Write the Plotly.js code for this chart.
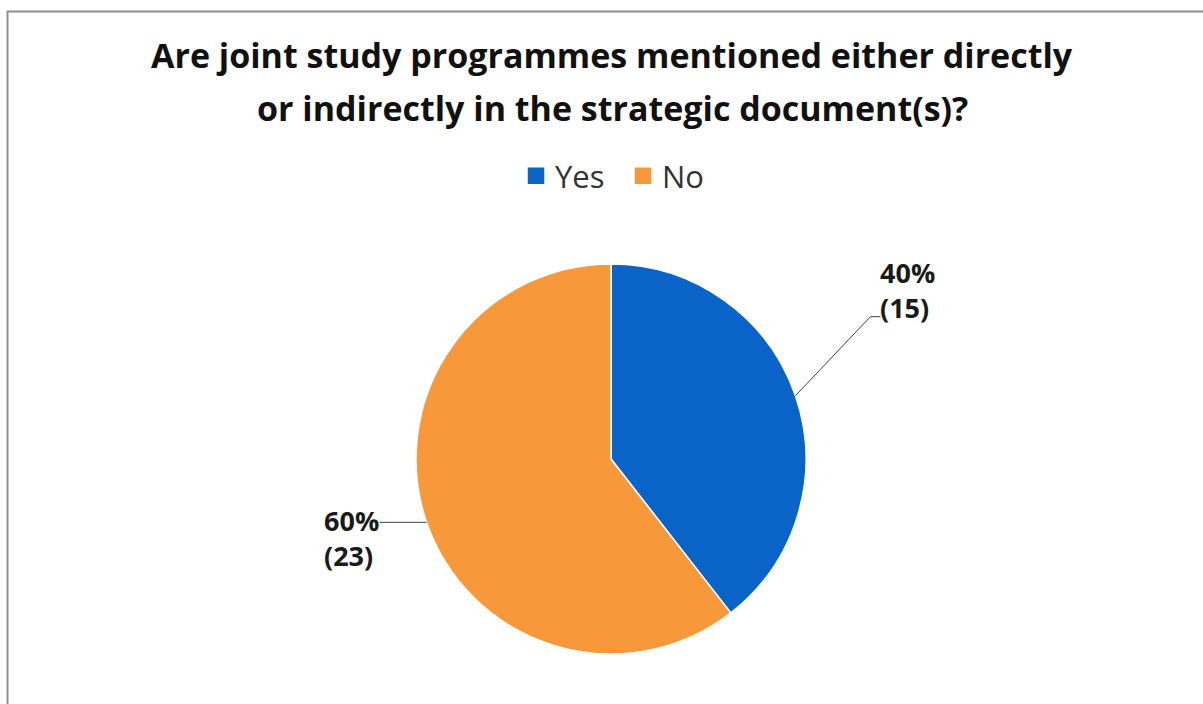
<!DOCTYPE html>
<html><head><meta charset="utf-8">
<script src="https://cdn.plot.ly/plotly-3.0.1.min.js"></script>
<style>html,body{margin:0;padding:0;background:#fff;} #chart{width:1203px;height:704px;}</style>
</head><body><div id="chart"></div>
<script>
// ---- data ----
const categories = ["Yes", "No"];
const counts = [15, 23];
const percentLabels = ["40%", "60%"];
const sliceColors = ["#0A64C8", "#F7993A"];
const titleLines = ["Are joint study programmes mentioned either directly", "or indirectly in the strategic document(s)?"];

// ---- layout geometry ----
const W = 1203, H = 704;
const cx = 611, cy = 459, R = 195;
const px = x => x / W;
const py = y => 1 - y / H;
const FONT = "'Open Sans', 'Noto Sans', sans-serif";

const domain = { x: [px(cx - R), px(cx + R)], y: [py(cy + R), py(cy - R)] };

// label placement per slice (pixel offsets from the slice edge point)
const labelStyle = [
  { elbow: [75, -79], tail: 10, side: "left", dy: -27 },
  { elbow: [-47, 0], tail: 0, side: "right", dy: 16 }
];

const total = counts.reduce((a, b) => a + b, 0);
let cum = 0;
const shapes = [];
const annotations = [];
counts.forEach((v, i) => {
  const mid = (cum + v / 2) / total * 2 * Math.PI;
  cum += v;
  const ex = cx + R * Math.sin(mid);
  const ey = cy - R * Math.cos(mid);
  const st = labelStyle[i];
  const bx = ex + st.elbow[0], by = ey + st.elbow[1];
  const tx = bx + (st.side === "left" ? st.tail : -st.tail);
  shapes.push({
    type: "path", xref: "paper", yref: "paper",
    path: `M ${px(ex)} ${py(ey)} L ${px(bx)} ${py(by)} L ${px(tx)} ${py(by)}`,
    line: { color: "#404040", width: 1 }
  });
  const ax = st.side === "left" ? tx - 2 : tx + 1;
  annotations.push({
    xref: "paper", yref: "paper", showarrow: false,
    x: px(ax), y: py(by + st.dy),
    xanchor: st.side, yanchor: "middle", align: "left",
    text: percentLabels[i] + "<br>(" + v + ")",
    font: { family: FONT, size: 27, color: "#1a1a1a", weight: "bold" }
  });
});

// title lines
const titleY = [55, 108];
titleLines.forEach((t, i) => {
  annotations.push({
    xref: "paper", yref: "paper", showarrow: false,
    x: px(612), y: py(titleY[i]), xanchor: "center", yanchor: "middle",
    text: t,
    font: { family: FONT, size: 34, color: "#111111", weight: "bold" }
  });
});

// chart border
shapes.push({ type: "rect", xref: "paper", yref: "paper", x0: px(7.5), x1: 1.05, y0: -0.05, y1: py(11.5),
  line: { color: "#8f8f8f", width: 2 }, fillcolor: "rgba(0,0,0,0)" });

const data = [{
  type: "pie",
  labels: categories,
  values: counts,
  sort: false,
  direction: "clockwise",
  rotation: 0,
  textinfo: "none",
  hoverinfo: "label+value+percent",
  marker: { colors: sliceColors, line: { color: "#ffffff", width: 1.5 } },
  domain: domain
}];

const layout = {
  width: W, height: H,
  margin: { l: 0, r: 0, t: 0, b: 0 },
  paper_bgcolor: "#ffffff",
  showlegend: true,
  legend: {
    orientation: "h", x: px(622), xanchor: "center", y: py(176), yanchor: "middle",
    font: { family: FONT, size: 31, color: "#333333" },
    traceorder: "normal",
    entrywidth: 62, entrywidthmode: "pixels"
  },
  shapes: shapes,
  annotations: annotations
};

Plotly.newPlot("chart", data, layout, { displayModeBar: false, staticPlot: true }).then(gd => {
  // enlarge the legend colour squares to match the reference
  gd.querySelectorAll(".legend .legendpoints path").forEach(p => {
    p.setAttribute("d", "M10,9H-8V-9H10Z");
  });
});
</script>
</body></html>
